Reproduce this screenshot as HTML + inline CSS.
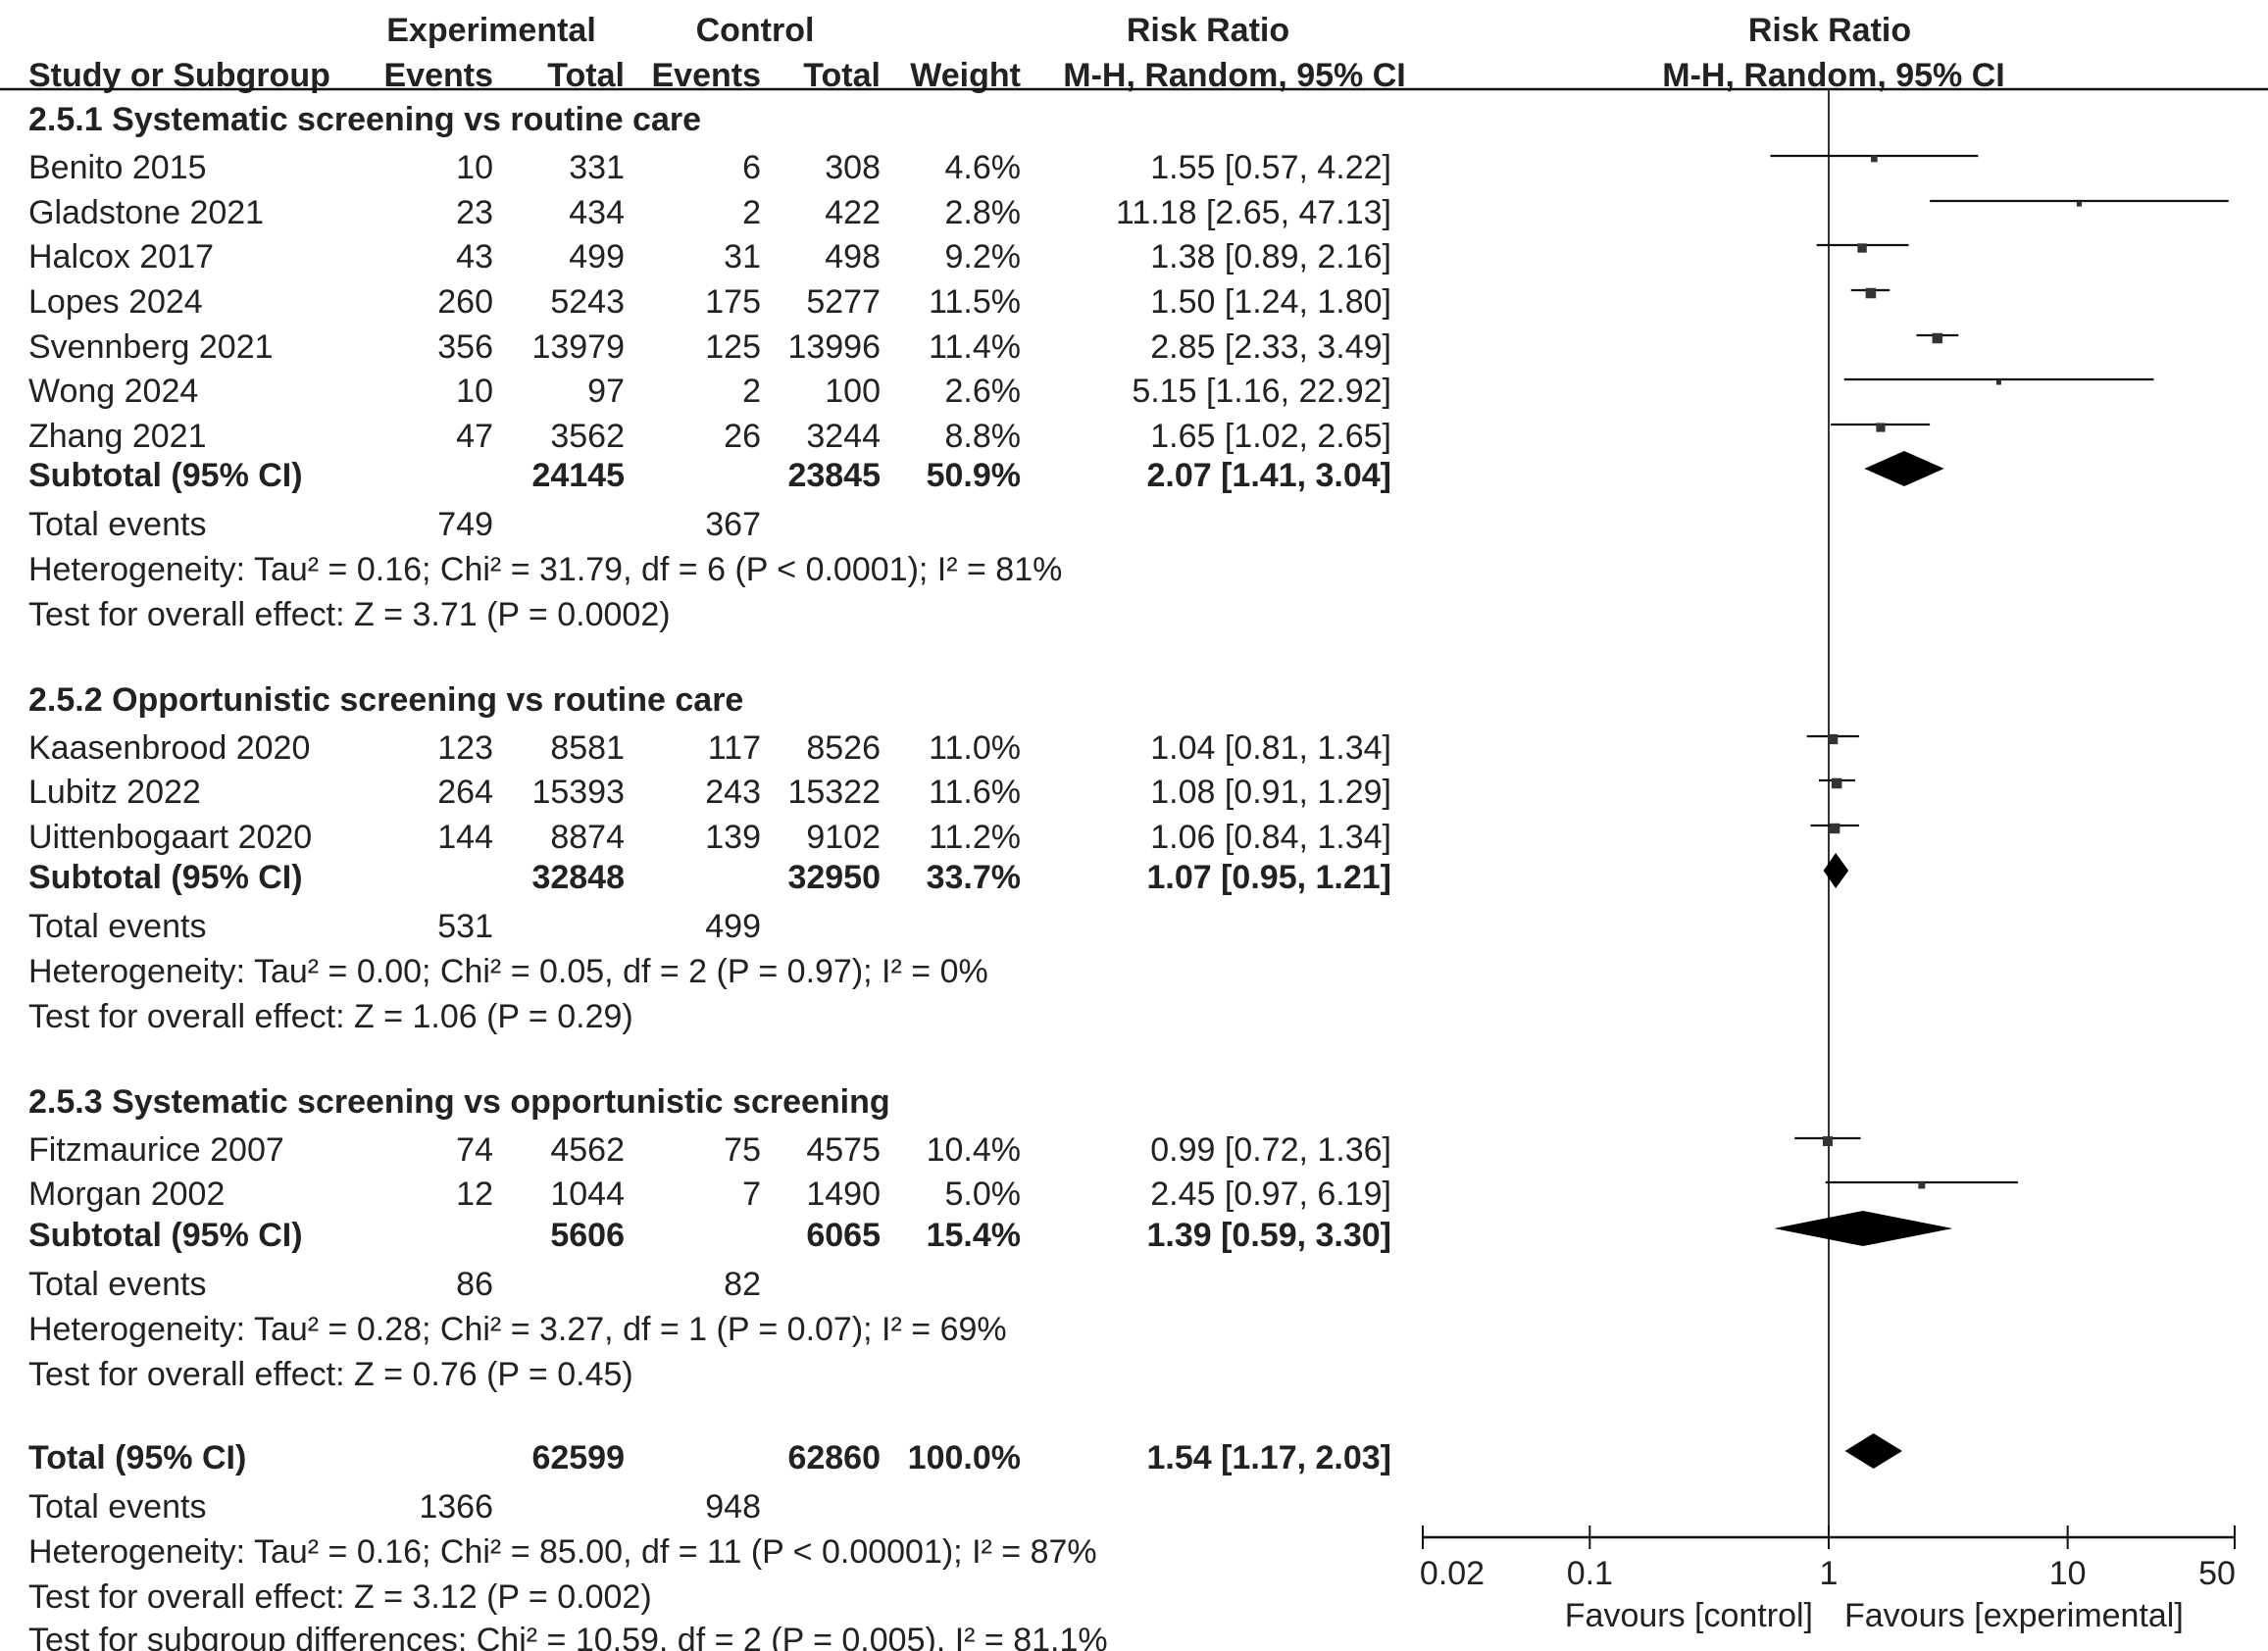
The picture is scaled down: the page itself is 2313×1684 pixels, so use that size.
<!DOCTYPE html>
<html><head><meta charset="utf-8"><style>
html,body{margin:0;padding:0;background:#fff;}
svg{display:block;}
text{font-family:"Liberation Sans",Arial,sans-serif;font-size:34px;fill:#222;dominant-baseline:central;}
.b{font-weight:bold;}
</style></head><body>
<svg id="c" width="2313" height="1684" viewBox="0 0 2313 1684"></svg>
<script>
const studies=["Benito 2015","Gladstone 2021","Halcox 2017","Lopes 2024","Svennberg 2021","Wong 2024","Zhang 2021","Kaasenbrood 2020","Lubitz 2022","Uittenbogaart 2020","Fitzmaurice 2007","Morgan 2002"];
const expEvents=[10,23,43,260,356,10,47,123,264,144,74,12];
const expTotal=[331,434,499,5243,13979,97,3562,8581,15393,8874,4562,1044];
const ctlEvents=[6,2,31,175,125,2,26,117,243,139,75,7];
const ctlTotal=[308,422,498,5277,13996,100,3244,8526,15322,9102,4575,1490];
const weights=[4.6,2.8,9.2,11.5,11.4,2.6,8.8,11.0,11.6,11.2,10.4,5.0];
const rr=[1.55,11.18,1.38,1.50,2.85,5.15,1.65,1.04,1.08,1.06,0.99,2.45];
const lo=[0.57,2.65,0.89,1.24,2.33,1.16,1.02,0.81,0.91,0.84,0.72,0.97];
const hi=[4.22,47.13,2.16,1.80,3.49,22.92,2.65,1.34,1.29,1.34,1.36,6.19];
const studyY=[171,217,262,308,354,399,445,763,808,854,1173,1218];
const subNames=["Subtotal (95% CI)","Subtotal (95% CI)","Subtotal (95% CI)","Total (95% CI)"];
const subExpTotal=["24145","32848","5606","62599"];
const subCtlTotal=["23845","32950","6065","62860"];
const subWeight=["50.9%","33.7%","15.4%","100.0%"];
const subRR=[2.07,1.07,1.39,1.54];
const subLo=[1.41,0.95,0.59,1.17];
const subHi=[3.04,1.21,3.30,2.03];
const subY=[485,895,1260,1487];
const teExp=["749","531","86","1366"];
const teCtl=["367","499","82","948"];
const hetText=["Heterogeneity: Tau² = 0.16; Chi² = 31.79, df = 6 (P < 0.0001); I² = 81%","Heterogeneity: Tau² = 0.00; Chi² = 0.05, df = 2 (P = 0.97); I² = 0%","Heterogeneity: Tau² = 0.28; Chi² = 3.27, df = 1 (P = 0.07); I² = 69%","Heterogeneity: Tau² = 0.16; Chi² = 85.00, df = 11 (P < 0.00001); I² = 87%"];
const testText=["Test for overall effect: Z = 3.71 (P = 0.0002)","Test for overall effect: Z = 1.06 (P = 0.29)","Test for overall effect: Z = 0.76 (P = 0.45)","Test for overall effect: Z = 3.12 (P = 0.002)"];
const groupNames=["2.5.1 Systematic screening vs routine care","2.5.2 Opportunistic screening vs routine care","2.5.3 Systematic screening vs opportunistic screening"];
const groupY=[122,714,1124];
const ticks=[0.02,0.1,1,10,50];
const tickLabels=["0.02","0.1","1","10","50"];

const svg=document.getElementById('c');
const NS='http://www.w3.org/2000/svg';
const X0=1451,X1=2279,AX_MIN=0.02,AX_MAX=50;
function xs(v){return X0+(Math.log10(v)-Math.log10(AX_MIN))/(Math.log10(AX_MAX)-Math.log10(AX_MIN))*(X1-X0);}
function el(tag,attrs,txt){const e=document.createElementNS(NS,tag);for(const k in attrs)e.setAttribute(k,attrs[k]);if(txt!==undefined)e.textContent=txt;svg.appendChild(e);return e;}
function t(x,y,s,anchor,bold){return el('text',{x:x,y:y,'text-anchor':anchor||'start','class':bold?'b':''},s);}
const fmt=v=>v.toFixed(2);
const C={exE:503,exT:637,ctE:776,ctT:898,w:1041,rr:1419};

let h;
h=t(501,31,"Experimental","middle",true);
h=t(770,31,"Control","middle",true);
h=t(1232,31,"Risk Ratio","middle",true);
h=t(1866,31,"Risk Ratio","middle",true);
h=t(29,77,"Study or Subgroup","start",true);
h=t(C.exE,77,"Events","end",true);
h=t(C.exT,77,"Total","end",true);
h=t(C.ctE,77,"Events","end",true);
h=t(C.ctT,77,"Total","end",true);
h=t(C.w,77,"Weight","end",true);
h=t(1259,77,"M-H, Random, 95% CI","middle",true);
h=t(1870,77,"M-H, Random, 95% CI","middle",true);
h=el('line',{x1:0,y1:91,x2:2313,y2:91,stroke:'#111','stroke-width':2.5});


h=el('line',{x1:xs(1),y1:91,x2:xs(1),y2:1568,stroke:'#333','stroke-width':2});


groupNames.forEach((g,i)=>{const e=t(29,groupY[i],g,'start',true);
});

studies.forEach((s,i)=>{const y=studyY[i];
let e=t(29,y,s);
e=t(C.exE,y,String(expEvents[i]),'end');
e=t(C.exT,y,String(expTotal[i]),'end');
e=t(C.ctE,y,String(ctlEvents[i]),'end');
e=t(C.ctT,y,String(ctlTotal[i]),'end');
e=t(C.w,y,weights[i].toFixed(1)+'%','end');
e=t(C.rr,y,fmt(rr[i])+' ['+fmt(lo[i])+', '+fmt(hi[i])+']','end');
const ly=y-12;
e=el('line',{x1:xs(lo[i]),y1:ly,x2:xs(hi[i]),y2:ly,stroke:'#111','stroke-width':2.2});

const sz=Math.sqrt(weights[i])*3.1;
e=el('rect',{x:xs(rr[i])-sz/2,y:ly-sz/2+3,width:sz,height:sz,fill:'#333'});

});

subY.forEach((y,i)=>{
let e=t(29,y,subNames[i],'start',true);
e=t(C.exT,y,subExpTotal[i],'end',true);
e=t(C.ctT,y,subCtlTotal[i],'end',true);
e=t(C.w,y,subWeight[i],'end',true);
e=t(C.rr,y,fmt(subRR[i])+' ['+fmt(subLo[i])+', '+fmt(subHi[i])+']','end',true);
const dy=y-7;
e=el('polygon',{points:`${xs(subLo[i])},${dy} ${xs(subRR[i])},${dy-18} ${xs(subHi[i])},${dy} ${xs(subRR[i])},${dy+18}`,fill:'#000'});

const y2=y+50;
e=t(29,y2,'Total events');
e=t(C.exE,y2,teExp[i],'end');
e=t(C.ctE,y2,teCtl[i],'end');
e=t(29,y2+46,hetText[i]);
e=t(29,y2+92,testText[i]);
});
h=t(29,1673,"Test for subgroup differences: Chi² = 10.59, df = 2 (P = 0.005), I² = 81.1%");


h=el('line',{x1:X0,y1:1568,x2:X1,y2:1568,stroke:'#111','stroke-width':2.5});

const labelShift=[30,0,0,0,-18];
ticks.forEach((v,i)=>{
let e=el('line',{x1:xs(v),y1:1556,x2:xs(v),y2:1580,stroke:'#111','stroke-width':2});

e=t(xs(v)+labelShift[i],1605,tickLabels[i],'middle');
});
h=t(xs(1)-16,1648,"Favours [control]",'end');
h=t(xs(1)+16,1648,"Favours [experimental]",'start');
</script>
</body></html>
